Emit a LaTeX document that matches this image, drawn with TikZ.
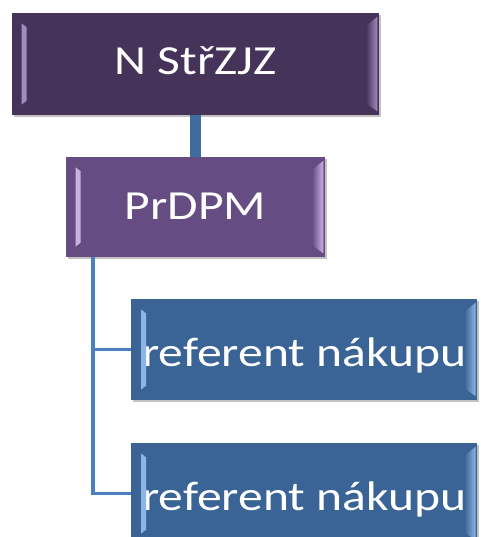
\documentclass[tikz,border=0pt]{standalone}
\usepackage{fontspec}
\setmainfont{Carlito}
\usepackage{graphicx}
\usetikzlibrary{shadows}

\definecolor{topfill}{HTML}{45335A}
\definecolor{toplight}{HTML}{A08CBE}
\definecolor{midfill}{HTML}{654C82}
\definecolor{midlight}{HTML}{C8B2E0}
\definecolor{leaffill}{HTML}{3A6495}
\definecolor{leaflight}{HTML}{8DB6E6}
\definecolor{stemblue}{HTML}{3F6C9F}
\definecolor{branchblue}{HTML}{4A7FC0}

\newcommand\wide[1]{\scalebox{1.2}[1]{#1}}
% bevel highlights: node, base colour, light colour
\newcommand\boxbevel[3]{%
  \fill[#3] ([xshift=7.5pt,yshift=-8pt]#1.north west) -- ([xshift=11.25pt,yshift=-11pt]#1.north west)
    -- ([xshift=11.25pt,yshift=11pt]#1.south west) -- ([xshift=7.5pt,yshift=8pt]#1.south west) -- cycle;
  \shade[left color=#2, right color=#3] ([xshift=-10pt,yshift=-10pt]#1.north east) -- ([xshift=-1.5pt,yshift=-3pt]#1.north east)
    -- ([xshift=-1.5pt,yshift=3pt]#1.south east) -- ([xshift=-10pt,yshift=9pt]#1.south east) -- cycle;
}

\tikzset{
  orgbox/.style={text=white, inner xsep=8.25pt, inner ysep=0pt, text depth=0pt,
    font=\fontsize{31}{37}\selectfont,
    drop shadow={shadow xshift=1.2pt, shadow yshift=-1.2pt, fill=black!40, opacity=0.6}},
  topbox/.style={orgbox, fill=topfill, minimum width=275.25pt, minimum height=76.5pt, text height=16pt},
  midbox/.style={orgbox, fill=midfill, minimum width=194.25pt, minimum height=75pt, text height=18pt},
  leafbox/.style={orgbox, fill=leaffill, minimum height=75.75pt, text height=26pt, anchor=west},
  stem/.style={draw=stemblue, line width=8.25pt},
  branch/.style={draw=branchblue, line width=2.6pt}
}

\begin{document}
\begin{tikzpicture}[x=0.75pt, y=-0.75pt]
  \useasboundingbox (0,0) rectangle (481,537);
  \clip (0,0) rectangle (481,537);

  \node[topbox] (top) at (195.5,64) {\wide{N StřZJZ}};
  \node[midbox] (mid) at (195.5,207) {\wide{PrDPM}};
  \node[leafbox] (leafA) at (131,349.5) {\wide{referent nákupu}};
  \node[leafbox] (leafB) at (131,493.5) {\wide{referent nákupu}};

  \boxbevel{top}{topfill}{toplight}
  \boxbevel{mid}{midfill}{midlight}
  \boxbevel{leafA}{leaffill}{leaflight}
  \boxbevel{leafB}{leaffill}{leaflight}

  % connectors
  \draw[stem] (top.south) -- (mid.north);
  \coordinate (trunk) at (93,257);
  \draw[branch] (trunk) |- (leafA.west);
  \draw[branch] (trunk) |- (leafB.west);
\end{tikzpicture}
\end{document}
